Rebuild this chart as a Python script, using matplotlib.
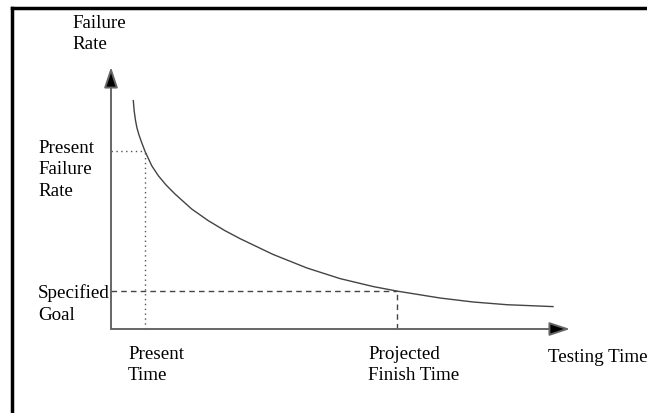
import matplotlib
matplotlib.use("Agg")
import matplotlib.pyplot as plt
from matplotlib.lines import Line2D

# Data (time units 0..10, rate units 0..10)
testing_time = [0.486, 0.505, 0.534, 0.566, 0.610, 0.664, 0.741, 0.887, 1.031,
                1.198, 1.394, 1.758, 2.120, 2.484, 2.810, 3.529, 4.270, 4.989,
                5.708, 6.231, 7.168, 7.887, 8.627, 9.630]
failure_rate = [8.714, 8.321, 7.958, 7.672, 7.405, 7.137, 6.782, 6.233, 5.851,
                5.500, 5.153, 4.580, 4.134, 3.752, 3.450, 2.847, 2.328, 1.924,
                1.622, 1.447, 1.183, 1.031, 0.927, 0.855]
present_time = 0.741
present_rate = 6.782
finish_time = 6.231
goal_rate = 1.447

W, H = 647, 414
fig = plt.figure(figsize=(W / 100, H / 100), dpi=100)
plt.rcParams['font.family'] = ['Liberation Serif', 'DejaVu Serif']
FS = 13.7

# border lines (left & top)
fig.add_artist(Line2D([12 / W, 12 / W], [0, 1 - 9 / H], transform=fig.transFigure,
                      color='black', lw=2.5))
fig.add_artist(Line2D([12 / W, 1], [1 - 9 / H, 1 - 9 / H], transform=fig.transFigure,
                      color='black', lw=2.5))

x0, y0, x1, y1 = 111, 330, 570, 68
ax = fig.add_axes([x0 / W, (H - y0) / H, (x1 - x0) / W, (y0 - y1) / H])
ax.set_xlim(0, 10)
ax.set_ylim(0, 10)
ax.axis('off')

# axes arrows
for end in [(10, 0), (0, 10)]:
    ax.annotate('', xy=end, xytext=(0, 0), annotation_clip=False,
                arrowprops=dict(arrowstyle='-|>,head_length=0.9,head_width=0.3',
                                mutation_scale=14, ec='#666666', fc='black',
                                lw=1.4, shrinkA=0, shrinkB=0))

# curve
ax.plot(testing_time, failure_rate, color='#444444', lw=1.0, clip_on=False,
        solid_joinstyle='round')

# present failure rate (dotted)
ax.plot([0, present_time], [present_rate, present_rate], color='#555555',
        lw=1.0, ls=(0, (1, 2.5)), clip_on=False)
ax.plot([present_time, present_time], [0, present_rate], color='#555555',
        lw=1.0, ls=(0, (1, 2.5)), clip_on=False)

# specified goal (dashed)
ax.plot([0, finish_time], [goal_rate, goal_rate], color='#444444',
        lw=1.0, ls=(0, (4, 3)), clip_on=False)
ax.plot([finish_time, finish_time], [0, goal_rate], color='#444444',
        lw=1.0, ls=(0, (4, 3)), clip_on=False)


def ftext(x, y, s):
    fig.text(x / W, 1 - y / H, s, ha='left', va='center', fontsize=FS,
             linespacing=1.35, color='black')


ftext(72, 34, "Failure\nRate")
ftext(38, 170, "Present\nFailure\nRate")
ftext(38, 304, "Specified\nGoal")
ftext(128, 365, "Present\nTime")
ftext(368, 365, "Projected\nFinish Time")
ftext(548, 358, "Testing Time")

fig.savefig("out.png", dpi=100)
